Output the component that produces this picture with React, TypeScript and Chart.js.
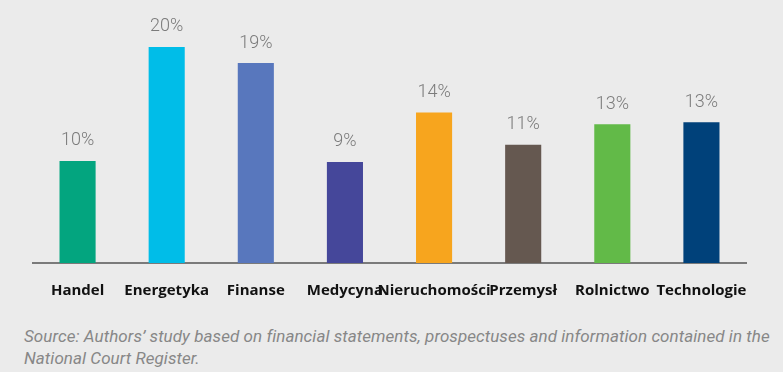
import React, { useEffect, useRef } from "react";
import { Chart, registerables } from "chart.js";

Chart.register(...registerables);

const categories = ["Handel", "Energetyka", "Finanse", "Medycyna", "Nieruchomości", "Przemysł", "Rolnictwo", "Technologie"];
const values = [9.5, 20.1, 18.6, 9.4, 14.0, 11.0, 12.9, 13.1];
const valueLabels = ["10%", "20%", "19%", "9%", "14%", "11%", "13%", "13%"];
const barColors = ["#03a57f", "#00bde8", "#5877bd", "#45479a", "#f7a51e", "#655850", "#62ba48", "#00417a"];
const sourceText = [
  "Source: Authors’ study based on financial statements, prospectuses and information contained in the",
  "National Court Register.",
];

const labelPlugin = {
  id: "valueLabels",
  afterDatasetsDraw(chart: any) {
    const ctx = chart.ctx;
    const meta = chart.getDatasetMeta(0);
    ctx.save();
    ctx.font = "300 18px Roboto, sans-serif";
    ctx.fillStyle = "#7b7b7b";
    ctx.textAlign = "center";
    ctx.textBaseline = "bottom";
    meta.data.forEach((el: any, i: number) => {
      ctx.fillText(valueLabels[i], el.x, el.y - 11);
    });
    ctx.restore();
  },
};

export default function App() {
  const ref = useRef<HTMLCanvasElement>(null);
  useEffect(() => {
    if (!ref.current) return;
    const chart = new Chart(ref.current, {
      type: "bar",
      data: {
        labels: categories,
        datasets: [
          {
            data: values,
            backgroundColor: barColors,
            categoryPercentage: 1,
            barPercentage: 0.405,
          },
        ],
      },
      options: {
        animation: false,
        responsive: false,
        maintainAspectRatio: false,
        layout: { padding: { left: 33, right: 37, top: 5, bottom: 11 } },
        plugins: { legend: { display: false }, tooltip: { enabled: false } },
        scales: {
          x: {
            grid: { display: false },
            border: { display: true, color: "#7a7a7a", width: 2 },
            ticks: {
              autoSkip: false,
              maxRotation: 0,
              minRotation: 0,
              padding: 11,
              color: "#111111",
              font: { family: "'Open Sans', sans-serif", size: 15, weight: "bold" },
            },
          },
          y: {
            display: false,
            min: 0,
            max: 24,
          },
        },
      },
      plugins: [labelPlugin],
    });
    return () => chart.destroy();
  }, []);

  return (
    <div style={{ position: "fixed", left: 0, top: 0, width: 783, height: 372, background: "#ebebeb", overflow: "hidden" }}>
      <canvas ref={ref} width={783} height={322} style={{ position: "absolute", left: 0, top: 0, width: 783, height: 322 }} />
      <div
        style={{
          position: "absolute",
          left: 24,
          top: 325,
          fontFamily: "Roboto, sans-serif",
          fontStyle: "italic",
          fontSize: 17,
          lineHeight: "22px",
          letterSpacing: "0.06px",
          color: "#878787",
          whiteSpace: "nowrap",
        }}
      >
        {sourceText.map((t, i) => (
          <div key={i}>{t}</div>
        ))}
      </div>
    </div>
  );
}
